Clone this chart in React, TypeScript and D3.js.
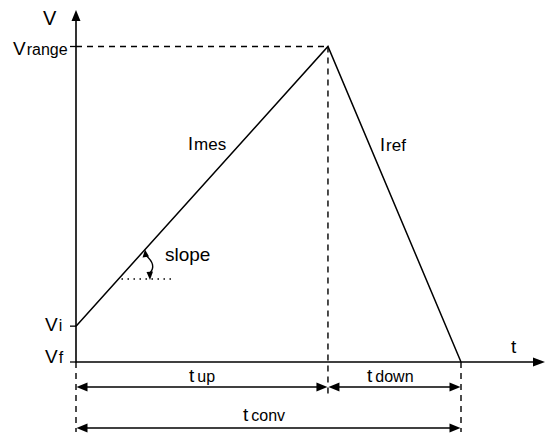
import React from "react";
import * as d3 from "d3";

// Data
const phaseTimes = [0, 1, 1.528]; // t=0, end of t_up, end of t_down (t_conv)
const rampVolts = [1, 8.8, 0]; // Vi -> Vrange -> Vf
const levelNames = ["range", "i", "f"];
const levelValues = [8.8, 1, 0];
const spanNames = ["up", "down", "conv"];
const spanStarts = [0, 1, 0];
const spanEnds = [1, 1.528, 1.528];
const slopeNames = ["mes", "ref"];

const W = 545;
const H = 435;
const FONT = "'Liberation Sans', Arial, Helvetica, sans-serif";

export default function App() {
  const x = d3.scaleLinear().domain([0, 1.528]).range([76, 461]);
  const y = d3.scaleLinear().domain([0, 8.8]).range([362, 46.5]);
  const x0 = x(0);
  const y0 = y(0);

  const pts: [number, number][] = phaseTimes.map((t, i) => [t, rampVolts[i]]);
  const ramp = d3
    .line<[number, number]>()
    .x((d) => x(d[0]))
    .y((d) => y(d[1]))(pts) as string;

  const arrowR = (px: number, py: number) =>
    `M${px},${py} L${px - 11},${py - 4.5} L${px - 11},${py + 4.5} Z`;
  const arrowL = (px: number, py: number) =>
    `M${px},${py} L${px + 11},${py - 4.5} L${px + 11},${py + 4.5} Z`;

  const rowY = [387, 387, 428];
  const labelX = [189, 367, 243];
  const labelY = [382, 382, 421];

  const levelLabelX = [13, 45, 45];
  const levelLabelDy = [8.5, 5, 1];

  // slope marker geometry: point on the rising ramp where the angle arc starts
  const tSlope = 0.274;
  const rampAt = (t: number) => rampVolts[0] + (t / phaseTimes[1]) * (rampVolts[1] - rampVolts[0]);
  const sx = x(tSlope);
  const sy = y(rampAt(tSlope));
  const dotY = 279;
  const slopePx = (y(rampVolts[0]) - y(rampVolts[1])) / (x(phaseTimes[1]) - x(0));
  const dotStartX = x0 + (y(rampVolts[0]) - dotY) / slopePx;

  return (
    <svg
      width={W}
      height={H}
      style={{ position: "absolute", left: 0, top: 0, background: "#fff" }}
      fontFamily={FONT}
    >
      <rect width={W} height={H} fill="#fff" />
      {/* axes */}
      <line x1={x0} y1={y0 + 0.5} x2={x0} y2={20} stroke="#000" strokeWidth={1.6} />
      <path d={`M${x0},10 L${x0 - 4.5},21 L${x0 + 4.5},21 Z`} fill="#000" />
      <line x1={x0} y1={y0} x2={534} y2={y0} stroke="#000" strokeWidth={1.6} />
      <path d={`M545,${y0} L533,${y0 - 4.5} L533,${y0 + 4.5} Z`} fill="#000" />
      <text x={43} y={25} fontSize={20}>V</text>
      <text x={511} y={353} fontSize={19}>t</text>

      {/* level ticks & labels */}
      {levelValues.map((v, i) => (
        <g key={levelNames[i]}>
          <line x1={x0 - 6} x2={x0} y1={y(v)} y2={y(v)} stroke="#000" strokeWidth={1.3} />
          <text x={levelLabelX[i]} y={y(v) + levelLabelDy[i]} fontSize={19}>
            V<tspan fontSize={16} dx={1}>{levelNames[i]}</tspan>
          </text>
        </g>
      ))}

      {/* dashed guides */}
      <line x1={x0} y1={y(8.8)} x2={x(1)} y2={y(8.8)} stroke="#000" strokeWidth={1.4} strokeDasharray="6,5" />
      <line x1={x(1)} y1={y(8.8)} x2={x(1)} y2={396} stroke="#000" strokeWidth={1.4} strokeDasharray="6,5" />
      <line x1={x0} y1={y0} x2={x0} y2={432} stroke="#000" strokeWidth={1.4} strokeDasharray="6,5" />
      <line x1={x(1.528)} y1={y0} x2={x(1.528)} y2={432} stroke="#000" strokeWidth={1.4} strokeDasharray="6,5" />

      {/* ramp */}
      <path d={ramp} fill="none" stroke="#000" strokeWidth={1.5} />
      <text x={188} y={150} fontSize={18}>
        I<tspan fontSize={17} dx={1}>{slopeNames[0]}</tspan>
      </text>
      <text x={380} y={151} fontSize={18}>
        I<tspan fontSize={17} dx={1}>{slopeNames[1]}</tspan>
      </text>

      {/* slope marker */}
      <line x1={dotStartX + 3} y1={dotY} x2={171} y2={dotY} stroke="#000" strokeWidth={1.4} strokeDasharray="1.5,4.5" />
      <path d={`M${sx + 1},${sy + 6} Q157,265 150,${dotY - 6}`} fill="none" stroke="#000" strokeWidth={1.4} />
      <path d={`M${sx},${sy} L${sx - 2.5},${sy + 8} L${sx + 4},${sy + 7} Z`} fill="#000" />
      <path d={`M150,${dotY + 1} L146.5,${dotY - 7} L153,${dotY - 7.5} Z`} fill="#000" />
      <text x={165} y={261} fontSize={19}>slope</text>

      {/* time spans */}
      {spanNames.map((n, i) => {
        const a = x(spanStarts[i]);
        const b = x(spanEnds[i]);
        const ry = rowY[i];
        return (
          <g key={n}>
            <line x1={a + 5} x2={b - 5} y1={ry} y2={ry} stroke="#000" strokeWidth={1.5} />
            <path d={arrowL(a + 0.5, ry)} fill="#000" />
            <path d={arrowR(b - 0.5, ry)} fill="#000" />
            <text x={labelX[i]} y={labelY[i]} fontSize={19}>
              t<tspan fontSize={16} dx={3}>{n}</tspan>
            </text>
          </g>
        );
      })}
    </svg>
  );
}
